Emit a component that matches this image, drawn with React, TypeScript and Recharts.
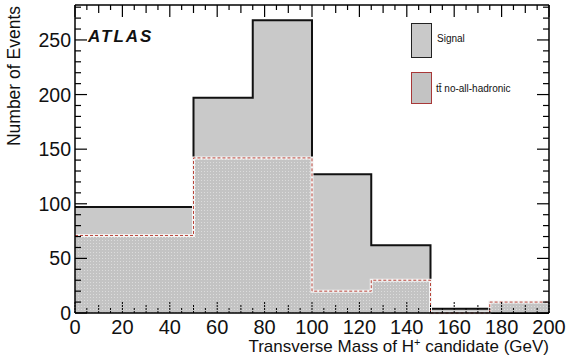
import React from "react";
import {
  ComposedChart,
  Area,
  Line,
  XAxis,
  YAxis,
} from "recharts";

// histogram bin edges (GeV) and per-bin contents
const binEdges = [0, 50, 75, 100, 125, 150, 175, 200];
const signalTotal = [97, 197, 268, 127, 62, 4, 0];
const ttbarBg = [71, 142, 142, 20, 30, 0, 10];

const xTicks = Array.from({ length: 41 }, (_, i) => i * 5);
const yTicks = Array.from({ length: 29 }, (_, i) => i * 10);

// step rows: last edge repeats last bin so stepAfter reaches 200
const rows = binEdges.map((x, i) => ({
  x,
  signal: signalTotal[Math.min(i, signalTotal.length - 1)],
  bg: ttbarBg[Math.min(i, ttbarBg.length - 1)],
}));

const font = "'Liberation Sans', Arial, sans-serif";

function LeftTick(props: any) {
  const { x, y, payload } = props;
  const major = payload.value % 50 === 0;
  return (
    <g>
      <line x1={x} x2={x + (major ? 12 : 6)} y1={y} y2={y} stroke="#000" strokeWidth={1.2} />
      {major && (
        <text x={x - 4} y={y + 7} textAnchor="end" fontSize={19.5} fontFamily={font} fill="#111">
          {payload.value}
        </text>
      )}
    </g>
  );
}

function RightTick(props: any) {
  const { x, y, payload } = props;
  const major = payload.value % 50 === 0;
  return <line x1={x} x2={x - (major ? 12 : 6)} y1={y} y2={y} stroke="#000" strokeWidth={1.2} />;
}

function BottomTick(props: any) {
  const { x, y, payload } = props;
  const v = payload.value;
  const len = v % 20 === 0 ? 12 : v % 10 === 0 ? 8 : 5;
  return (
    <g>
      <line x1={x} x2={x} y1={y} y2={y - len} stroke="#000" strokeWidth={1} strokeDasharray="2 1" />
      {v % 20 === 0 && (
        <text x={x} y={y + 21} textAnchor="middle" fontSize={20} fontFamily={font} fill="#111">
          {v}
        </text>
      )}
    </g>
  );
}

function TopTick(props: any) {
  const { x, y, payload } = props;
  const v = payload.value;
  const len = v % 20 === 0 ? 12 : v % 10 === 0 ? 8 : 5;
  return <line x1={x} x2={x} y1={y} y2={y + len} stroke="#000" strokeWidth={1.2} />;
}

export default function App() {
  return (
    <div style={{ position: "absolute", left: 0, top: 0, width: 570, height: 356, background: "#fff" }}>
      <ComposedChart
        width={570}
        height={356}
        data={rows}
        margin={{ top: 4, right: 20, bottom: 0, left: 0 }}
      >
        <defs>
          <pattern id="dots" width="3" height="3" patternUnits="userSpaceOnUse">
            <rect width="3" height="3" fill="#c3c3c3" />
            <rect x="0" y="0" width="1" height="1" fill="#dcdcdc" />
          </pattern>
        </defs>
        <XAxis
          dataKey="x"
          type="number"
          domain={[0, 200]}
          ticks={xTicks}
          interval={0}
          height={43}
          tickSize={0}
          tickMargin={0}
          tickLine={false}
          tick={<BottomTick />}
          axisLine={{ stroke: "#000", strokeWidth: 1.5 }}
          label={(p: any) => {
            const vb = p.viewBox;
            return (
              <text
                x={vb.x + vb.width}
                y={vb.y + 39}
                textAnchor="end"
                fontSize={17}
                fontFamily={font}
                fill="#111"
              >
                Transverse Mass of H
                <tspan dy={-6} fontSize={11}>+</tspan>
                <tspan dy={6}> candidate (GeV)</tspan>
              </text>
            );
          }}
        />
        <XAxis
          xAxisId="top"
          dataKey="x"
          type="number"
          orientation="top"
          domain={[0, 200]}
          ticks={xTicks}
          interval={0}
          height={1}
          tickSize={0}
          tickMargin={0}
          tickLine={false}
          tick={<TopTick />}
          axisLine={{ stroke: "#000", strokeWidth: 1.5 }}
        />
        <YAxis
          type="number"
          domain={[0, 282]}
          ticks={yTicks}
          interval={0}
          width={75}
          tickSize={0}
          tickMargin={0}
          tickLine={false}
          tick={<LeftTick />}
          axisLine={{ stroke: "#000", strokeWidth: 1.5 }}
          label={(p: any) => {
            const vb = p.viewBox;
            return (
              <text
                x={20}
                y={vb.y + 1}
                transform={`rotate(-90 20 ${vb.y + 1})`}
                textAnchor="end"
                fontSize={17.5}
                fontFamily={font}
                fill="#111"
              >
                Number of Events
              </text>
            );
          }}
        />
        <YAxis
          yAxisId="right"
          orientation="right"
          type="number"
          domain={[0, 282]}
          ticks={yTicks}
          interval={0}
          width={1}
          tickSize={0}
          tickMargin={0}
          tickLine={false}
          tick={<RightTick />}
          axisLine={{ stroke: "#000", strokeWidth: 1.5 }}
        />
        <Area
          dataKey="signal"
          type="stepAfter"
          fill="#c9c9c9"
          fillOpacity={1}
          stroke="#111"
          strokeWidth={2}
          isAnimationActive={false}
        />
        <Area
          dataKey="bg"
          type="stepAfter"
          fill="url(#dots)"
          fillOpacity={1}
          stroke="#f4f4f4"
          strokeWidth={3}
          isAnimationActive={false}
        />
        <Line
          dataKey="bg"
          type="stepAfter"
          stroke="#b8443a"
          strokeWidth={1}
          strokeDasharray="3 2"
          dot={false}
          isAnimationActive={false}
        />
        <Line
          xAxisId="top"
          yAxisId="right"
          dataKey="bg"
          stroke="none"
          dot={false}
          activeDot={false}
          isAnimationActive={false}
        />
      </ComposedChart>

      <div
        style={{
          position: "absolute",
          left: 88,
          top: 27,
          fontFamily: font,
          fontSize: 17,
          fontWeight: "bold",
          fontStyle: "italic",
          letterSpacing: 2,
          color: "#111",
        }}
      >
        ATLAS
      </div>

      <div style={{ position: "absolute", left: 411, top: 23, width: 19, height: 33, background: "#c9c9c9", border: "1.5px solid #222" }} />
      <div style={{ position: "absolute", left: 437, top: 33, fontFamily: font, fontSize: 10, color: "#111" }}>
        Signal
      </div>
      <div
        style={{
          position: "absolute",
          left: 411,
          top: 72,
          width: 19,
          height: 30,
          background: "#c3c3c3",
          border: "1.5px solid #a83838",
        }}
      />
      <div style={{ position: "absolute", left: 436, top: 83, fontFamily: font, fontSize: 10, color: "#111" }}>
        tt̄ no-all-hadronic
      </div>
    </div>
  );
}
